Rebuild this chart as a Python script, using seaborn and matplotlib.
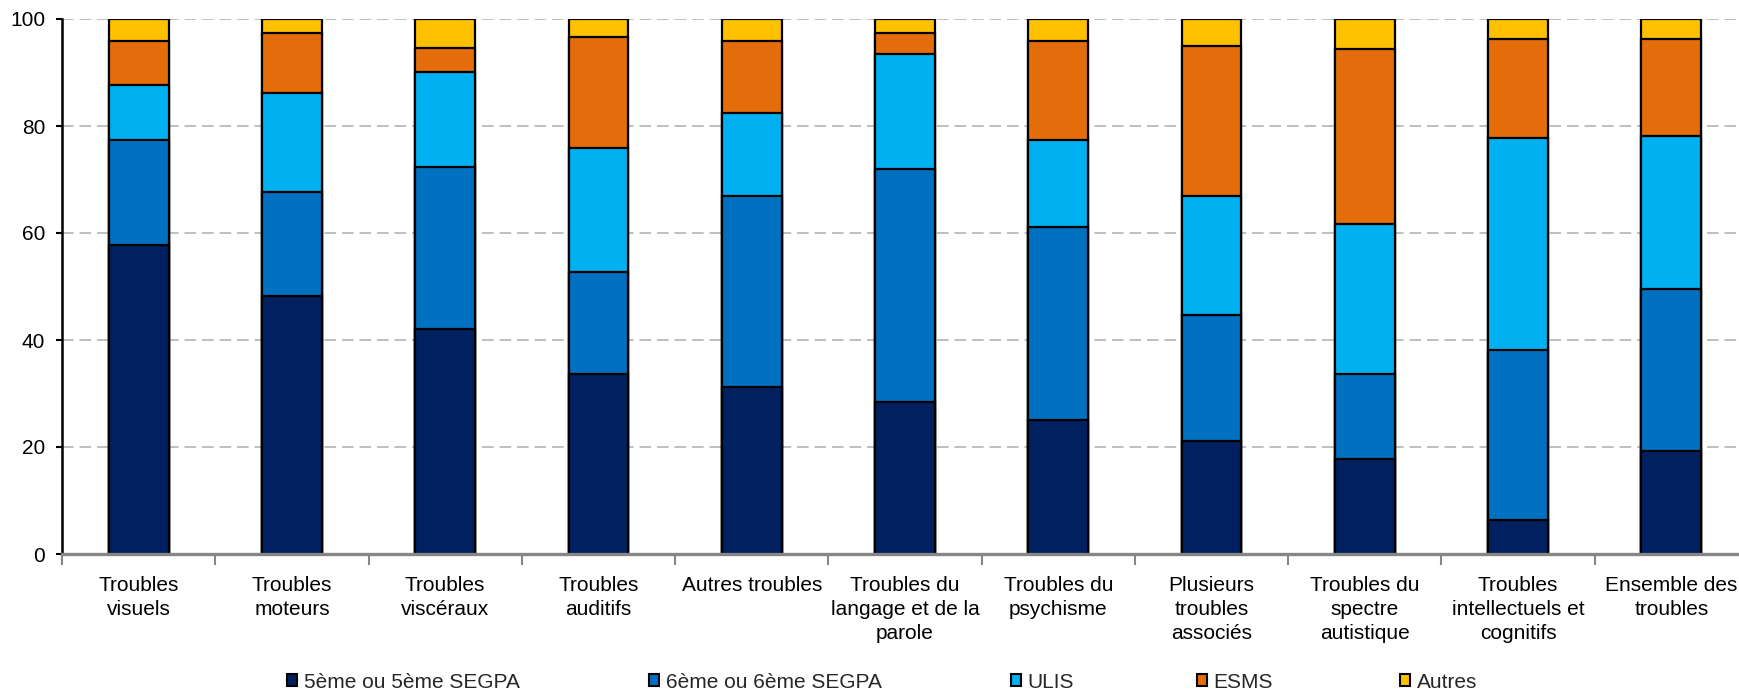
import matplotlib
matplotlib.use("Agg")
import matplotlib.pyplot as plt
from matplotlib.patches import Patch
from matplotlib.ticker import FixedLocator
import numpy as np
import pandas as pd
import seaborn as sns

categories = [
    "Troubles\nvisuels", "Troubles\nmoteurs", "Troubles\nviscéraux", "Troubles\nauditifs",
    "Autres troubles", "Troubles du\nlangage et de la\nparole", "Troubles du\npsychisme",
    "Plusieurs\ntroubles\nassociés", "Troubles du\nspectre\nautistique",
    "Troubles\nintellectuels et\ncognitifs", "Ensemble des\ntroubles",
]
series_names = ["5ème ou 5ème SEGPA", "6ème ou 6ème SEGPA", "ULIS", "ESMS", "Autres"]
cinquieme = [57.8, 48.2, 42.0, 33.6, 31.3, 28.5, 25.0, 21.2, 17.8, 6.4, 19.3]
sixieme   = [19.6, 19.5, 30.4, 19.2, 35.7, 43.5, 36.2, 23.5, 15.8, 31.7, 30.3]
ulis      = [10.3, 18.5, 17.7, 23.0, 15.4, 21.5, 16.2, 22.3, 28.1, 39.7, 28.5]
esms      = [8.1, 11.2, 4.5, 20.8, 13.4, 3.9, 18.4, 28.0, 32.6, 18.4, 18.1]
autres    = [4.2, 2.6, 5.4, 3.4, 4.2, 2.6, 4.2, 5.0, 5.7, 3.8, 3.8]
colors = ["#002060", "#0070C0", "#00B0F0", "#E46C0A", "#FFC000"]
y_ticks = [0, 20, 40, 60, 80, 100]

sns.set_style("white")
plt.rcParams["font.family"] = ["Liberation Sans", "DejaVu Sans"]

values = np.array([cinquieme, sixieme, ulis, esms, autres])
cum = np.cumsum(values, axis=0)

fig = plt.figure(figsize=(17.4, 6.91), dpi=100)
ax = fig.add_axes([62 / 1740, 1 - 554 / 691, (1748 - 62) / 1740, (554 - 19) / 691])

# draw cumulative layers from top to bottom so that each lower layer overlays
for i in range(len(series_names) - 1, -1, -1):
    df = pd.DataFrame({"cat": categories, "val": cum[i]})
    sns.barplot(data=df, x="cat", y="val", order=categories, color=colors[i],
                saturation=1, width=0.39, edgecolor="black", linewidth=1.6,
                errorbar=None, ax=ax, zorder=3)

ax.set_xlim(-0.5, len(categories) - 0.5)
ax.set_ylim(0, 100)
ax.set_yticks(y_ticks)
ax.set_yticklabels([str(v) for v in y_ticks])
ax.set_xlabel("")
ax.set_ylabel("")

ax.yaxis.grid(True, color="#BFBFBF", linestyle=(0, (6, 3)), linewidth=1.4, zorder=0)
ax.xaxis.grid(False)
ax.set_axisbelow(True)

for s in ["top", "right"]:
    ax.spines[s].set_visible(False)
ax.spines["left"].set_color("black")
ax.spines["left"].set_linewidth(1.8)
ax.spines["bottom"].set_color("#868686")
ax.spines["bottom"].set_linewidth(2.4)
ax.spines["bottom"].set_zorder(4)

ax.tick_params(axis="y", which="major", direction="out", length=4, width=1.5,
               color="black", pad=8, labelsize=15, labelcolor="black", left=True)
ax.tick_params(axis="x", which="major", length=0, pad=16, labelsize=15, labelcolor="black")
ax.xaxis.set_minor_locator(FixedLocator(np.arange(-0.5, len(categories), 1.0)))
ax.tick_params(axis="x", which="minor", direction="out", length=8, width=1.5,
               color="#868686", bottom=True)
for lab in ax.get_xticklabels():
    lab.set_linespacing(1.32)
    lab.set_va("top")

marker_left = [287, 649, 1011, 1197, 1400]
for name, col, xl in zip(series_names, colors, marker_left):
    h = Patch(facecolor=col, edgecolor="black", linewidth=1.5)
    fig.legend([h], [name], loc="center left", bbox_to_anchor=(xl / 1740, 1 - 682 / 691),
               frameon=False, fontsize=15, handlelength=0.5, handleheight=0.5,
               handletextpad=0.3, borderpad=0, borderaxespad=0)

fig.savefig("out.png", dpi=100, facecolor="white")
